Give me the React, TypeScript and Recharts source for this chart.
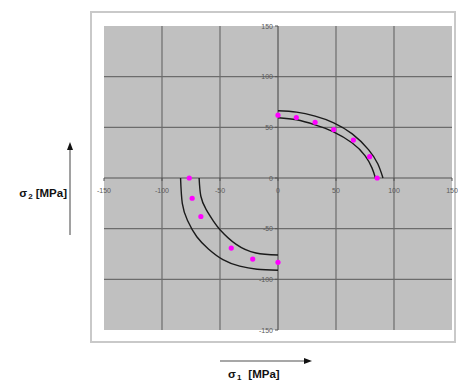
import React from 'react';
import { ScatterChart, Scatter, XAxis, YAxis, CartesianGrid, ReferenceLine } from 'recharts';

// axis ticks (both axes run -150..150)
const TICKS = [-150, -100, -50, 0, 50, 100, 150];
const GRID_VALUES = [-100, -50, 50, 100];

// measured points (magenta)
const upperPoints = [
  { x: 0, y: 62 }, { x: 15.8, y: 59.7 }, { x: 32, y: 55 }, { x: 48, y: 47.8 },
  { x: 65, y: 37.4 }, { x: 79, y: 21 }, { x: 85.5, y: 0 },
];
const lowerPoints = [
  { x: -76.5, y: 0 }, { x: -74, y: -20 }, { x: -66.5, y: -38 },
  { x: -40.3, y: -69.2 }, { x: -21.8, y: -80 }, { x: 0, y: -83.2 },
];

// band limits
const upperOuter = [
  { x: 0, y: 66.3 }, { x: 16, y: 65 }, { x: 32, y: 61 }, { x: 48, y: 54.5 },
  { x: 64, y: 43.5 }, { x: 78, y: 28 }, { x: 86, y: 14 }, { x: 90.5, y: 0 },
];
const upperInner = [
  { x: 0, y: 59.5 }, { x: 16, y: 57.5 }, { x: 32, y: 52.5 }, { x: 47, y: 46 },
  { x: 64, y: 34.5 }, { x: 75, y: 22 }, { x: 81, y: 10 }, { x: 84, y: 0 },
];
const lowerOuter = [
  { x: -84, y: 0 }, { x: -82.5, y: -25 }, { x: -78, y: -42 }, { x: -70, y: -58 },
  { x: -60, y: -70 }, { x: -47.5, y: -80.5 }, { x: -33, y: -87 }, { x: -18, y: -90 },
  { x: 0, y: -91 },
];
const lowerInner = [
  { x: -68, y: 0 }, { x: -66.5, y: -18 }, { x: -62, y: -31 }, { x: -56, y: -42 },
  { x: -50, y: -51 }, { x: -36, y: -65.5 }, { x: -19, y: -74 }, { x: 0, y: -76 },
];

const W = 458;
const H = 383;
// plot area: x 104..452, y 26..330
const X_AXIS_H = 30;
const Y_AXIS_W = 40;
const MARGIN = { top: 26, right: 6, bottom: 53 - X_AXIS_H, left: 104 - Y_AXIS_W };
const PLOT_W = W - 104 - MARGIN.right;
const PLOT_H = H - MARGIN.top - 53;
const ZERO_X = 104 + PLOT_W / 2;
const ZERO_Y = MARGIN.top + PLOT_H / 2;

const TICK_STYLE = { fontSize: 7, fill: '#5a5a5a', fontFamily: 'Liberation Sans, Arial, sans-serif' };

// ticks are drawn on the zero lines, not at the plot edges
const XTick = ({ x, payload }: any) => (
  <g>
    <line x1={x} x2={x} y1={ZERO_Y} y2={ZERO_Y + 3} stroke="#555" />
    <text x={x} y={ZERO_Y + 15} textAnchor="middle" {...TICK_STYLE}>{payload.value}</text>
  </g>
);

const YTick = ({ y, payload }: any) => (
  <g>
    <line x1={ZERO_X - 3} x2={ZERO_X} y1={y} y2={y} stroke="#555" />
    <text x={ZERO_X - 5} y={y + 2.5} textAnchor="end" {...TICK_STYLE}>{payload.value}</text>
  </g>
);

const NoDot = () => <g />;

const lineStyle = { stroke: '#1a1a1a', strokeWidth: 1.4 };

export default function App() {
  return (
    <div style={{ position: 'absolute', left: 0, top: 0, width: W, height: H, background: '#fff' }}>
      <div style={{
        position: 'absolute', left: 90, top: 11, width: 366, height: 332,
        border: '2px solid #c9c9c9', boxSizing: 'border-box',
      }} />
      <div style={{ position: 'absolute', left: 0, top: 0 }}>
        <ScatterChart width={W} height={H} margin={MARGIN}>
          <CartesianGrid fill="#c0c0c0" horizontal={false} vertical={false} />
          {GRID_VALUES.map((v) => (
            <ReferenceLine key={`gx${v}`} x={v} stroke="#6c6c6c" strokeWidth={1.2} />
          ))}
          {GRID_VALUES.map((v) => (
            <ReferenceLine key={`gy${v}`} y={v} stroke="#6c6c6c" strokeWidth={1.2} />
          ))}
          <ReferenceLine x={0} stroke="#555" strokeWidth={1.2} />
          <ReferenceLine y={0} stroke="#555" strokeWidth={1.2} />
          <XAxis type="number" dataKey="x" domain={[-150, 150]} ticks={TICKS} height={X_AXIS_H}
            axisLine={false} tickLine={false} tick={<XTick />} interval={0} />
          <YAxis type="number" dataKey="y" domain={[-150, 150]} ticks={TICKS} width={Y_AXIS_W}
            axisLine={false} tickLine={false} tick={<YTick />} interval={0} />
          <Scatter data={upperOuter} line={lineStyle} lineJointType="natural" shape={<NoDot />} isAnimationActive={false} />
          <Scatter data={upperInner} line={lineStyle} lineJointType="natural" shape={<NoDot />} isAnimationActive={false} />
          <Scatter data={lowerOuter} line={lineStyle} lineJointType="natural" shape={<NoDot />} isAnimationActive={false} />
          <Scatter data={lowerInner} line={lineStyle} lineJointType="natural" shape={<NoDot />} isAnimationActive={false} />
          <Scatter data={upperPoints} fill="#ff00ff" shape={<circle r={2.6} />} isAnimationActive={false} />
          <Scatter data={lowerPoints} fill="#ff00ff" shape={<circle r={2.6} />} isAnimationActive={false} />
        </ScatterChart>
      </div>
      <svg width={W} height={H} style={{ position: 'absolute', left: 0, top: 0, pointerEvents: 'none' }}>
        <line x1={70} x2={70} y1={235} y2={149} stroke="#8a8a8a" strokeWidth={1.6} />
        <polygon points="70,142 67,150 73,150" fill="#111" />
        <line x1={220} x2={305} y1={361} y2={361} stroke="#8a8a8a" strokeWidth={1.6} />
        <polygon points="312,361 304,358 304,364" fill="#111" />
        <g fontFamily="Liberation Sans, Arial, sans-serif" fontWeight="bold" fill="#111">
          <text x={67} y={197} textAnchor="end" fontSize={11.5}>
            σ<tspan fontSize={8} dy={2} dx={1}>2</tspan><tspan dy={-2} dx={3}>[MPa]</tspan>
          </text>
          <text x={228} y={378} fontSize={11.5}>
            σ<tspan fontSize={8} dy={2} dx={1}>1</tspan><tspan dy={-2} dx={7}>[MPa]</tspan>
          </text>
        </g>
      </svg>
    </div>
  );
}
